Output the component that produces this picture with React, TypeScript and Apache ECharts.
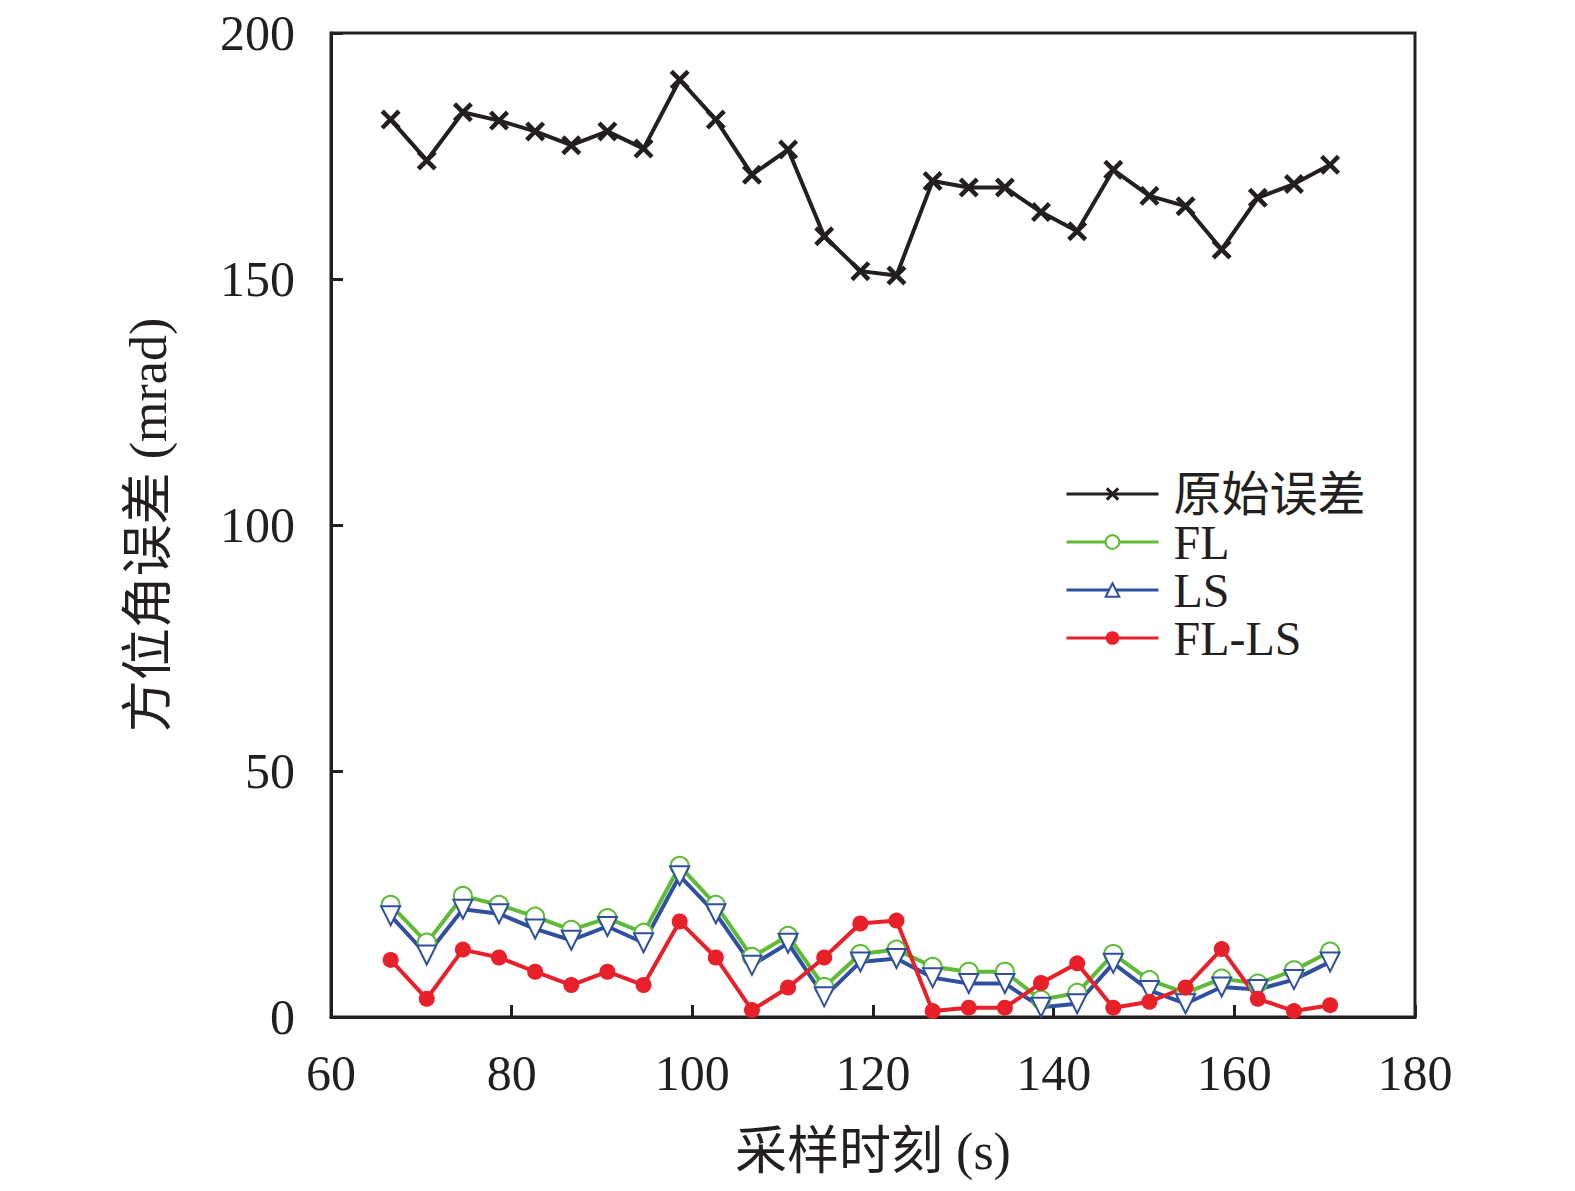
import React, { useEffect, useRef } from "react";
import * as echarts from "echarts";

const sampleTimes = [66.6, 70.6, 74.6, 78.6, 82.6, 86.6, 90.6, 94.6, 98.6, 102.6, 106.6, 110.6, 114.6, 118.6, 122.6, 126.6, 130.6, 134.6, 138.6, 142.6, 146.6, 150.6, 154.6, 158.6, 162.6, 166.6, 170.6];
const rawError = [182.4, 174.1, 183.9, 182.2, 180.0, 177.2, 180.0, 176.5, 190.5, 182.4, 171.2, 176.3, 158.7, 151.6, 150.7, 169.9, 168.6, 168.6, 163.6, 159.7, 172.2, 166.9, 164.8, 156.0, 166.5, 169.3, 173.2];
const flError = [22.8, 15.1, 24.6, 22.8, 20.4, 17.7, 20.1, 17.1, 30.7, 22.8, 12.2, 16.5, 6.1, 12.8, 13.7, 10.2, 9.2, 9.2, 3.5, 4.9, 12.8, 7.5, 4.9, 7.8, 6.8, 9.5, 13.3];
const lsError = [20.6, 12.6, 21.9, 21.0, 17.9, 15.6, 18.4, 15.1, 28.7, 21.0, 10.5, 15.0, 4.1, 11.2, 11.9, 8.0, 6.8, 6.8, 2.0, 2.7, 10.9, 5.4, 2.7, 6.1, 5.6, 7.6, 11.2];
const flLsError = [11.6, 3.7, 13.7, 12.1, 9.2, 6.5, 9.2, 6.5, 19.4, 12.1, 1.4, 6.0, 12.1, 19.0, 19.6, 1.2, 1.9, 1.9, 6.9, 10.9, 1.9, 3.1, 6.0, 13.8, 3.7, 1.2, 2.4];

const seriesNames = ["原始误差", "FL", "LS", "FL-LS"];
const xAxisName = "采样时刻 (s)";
const yAxisName = "方位角误差 (mrad)";

const INK = "#231f20";
const GREEN = "#5fbb35";
const BLUE = "#2f4f9f";
const RED = "#e8202a";
const FONT = '"Liberation Serif", "Times New Roman", "Noto Sans CJK SC", serif';
const CROSS = "path://M0,1.6L1.6,0L5,3.4L8.4,0L10,1.6L6.6,5L10,8.4L8.4,10L5,6.6L1.6,10L0,8.4L3.4,5Z";

const pairs = (ys: number[]) => sampleTimes.map((t, i) => [t, ys[i]]);

export default function App() {
  const ref = useRef<HTMLDivElement>(null);
  useEffect(() => {
    if (!ref.current) return;
    const chart = echarts.init(ref.current, undefined, { renderer: "svg" });
    chart.setOption({
      animation: false,
      backgroundColor: "#ffffff",
      textStyle: { fontFamily: FONT, color: INK },
      grid: {
        left: 331,
        right: 160,
        top: 33,
        bottom: 174,
        show: true,
        borderColor: INK,
        borderWidth: 3,
        backgroundColor: "transparent",
      },
      legend: {
        orient: "vertical",
        left: 1060,
        top: 465,
        itemWidth: 92,
        itemHeight: 17,
        itemGap: 0,
        symbolRotate: 0,
        data: seriesNames,
        lineStyle: { width: 3 },
        textStyle: {
          fontFamily: FONT,
          fontSize: 48,
          color: INK,
          lineHeight: 46,
          padding: [0, 0, 0, 10],
        },
      },
      xAxis: {
        type: "value",
        min: 60,
        max: 180,
        interval: 20,
        name: xAxisName,
        nameLocation: "middle",
        nameGap: 108,
        nameTextStyle: { fontFamily: FONT, fontSize: 52, color: INK },
        axisLine: { show: true, lineStyle: { color: INK, width: 3 } },
        axisTick: { show: true, inside: true, length: 12, lineStyle: { color: INK, width: 3 } },
        axisLabel: { fontFamily: FONT, fontSize: 50, color: INK, margin: 31 },
        splitLine: { show: false },
      },
      yAxis: {
        type: "value",
        min: 0,
        max: 200,
        interval: 50,
        name: yAxisName,
        nameLocation: "middle",
        nameGap: 157,
        nameRotate: 90,
        nameTextStyle: { fontFamily: FONT, fontSize: 52, color: INK },
        axisLine: { show: true, lineStyle: { color: INK, width: 3 } },
        axisTick: { show: true, inside: true, length: 12, lineStyle: { color: INK, width: 3 } },
        axisLabel: { fontFamily: FONT, fontSize: 50, color: INK, margin: 36 },
        splitLine: { show: false },
      },
      series: [
        {
          name: seriesNames[0],
          type: "line",
          data: pairs(rawError),
          symbol: CROSS,
          symbolSize: 20,
          color: INK,
          lineStyle: { color: INK, width: 4 },
          itemStyle: { color: INK, borderWidth: 0 },
        },
        {
          name: seriesNames[1],
          type: "line",
          data: pairs(flError),
          symbol: "emptyCircle",
          symbolSize: 18,
          color: GREEN,
          lineStyle: { color: GREEN, width: 4 },
          itemStyle: { color: GREEN, borderColor: GREEN, borderWidth: 3.5 },
        },
        {
          name: seriesNames[2],
          type: "line",
          data: pairs(lsError),
          symbol: "emptyTriangle",
          symbolSize: 19,
          symbolRotate: 180,
          color: BLUE,
          lineStyle: { color: BLUE, width: 4 },
          itemStyle: { color: BLUE, borderColor: BLUE, borderWidth: 3.5 },
        },
        {
          name: seriesNames[3],
          type: "line",
          data: pairs(flLsError),
          symbol: "circle",
          symbolSize: 16,
          color: RED,
          lineStyle: { color: RED, width: 4 },
          itemStyle: { color: RED },
        },
      ],
    });
    return () => chart.dispose();
  }, []);
  return (
    <div
      ref={ref}
      style={{ position: "absolute", left: 0, top: 0, width: 1575, height: 1191, background: "#fff" }}
    />
  );
}
